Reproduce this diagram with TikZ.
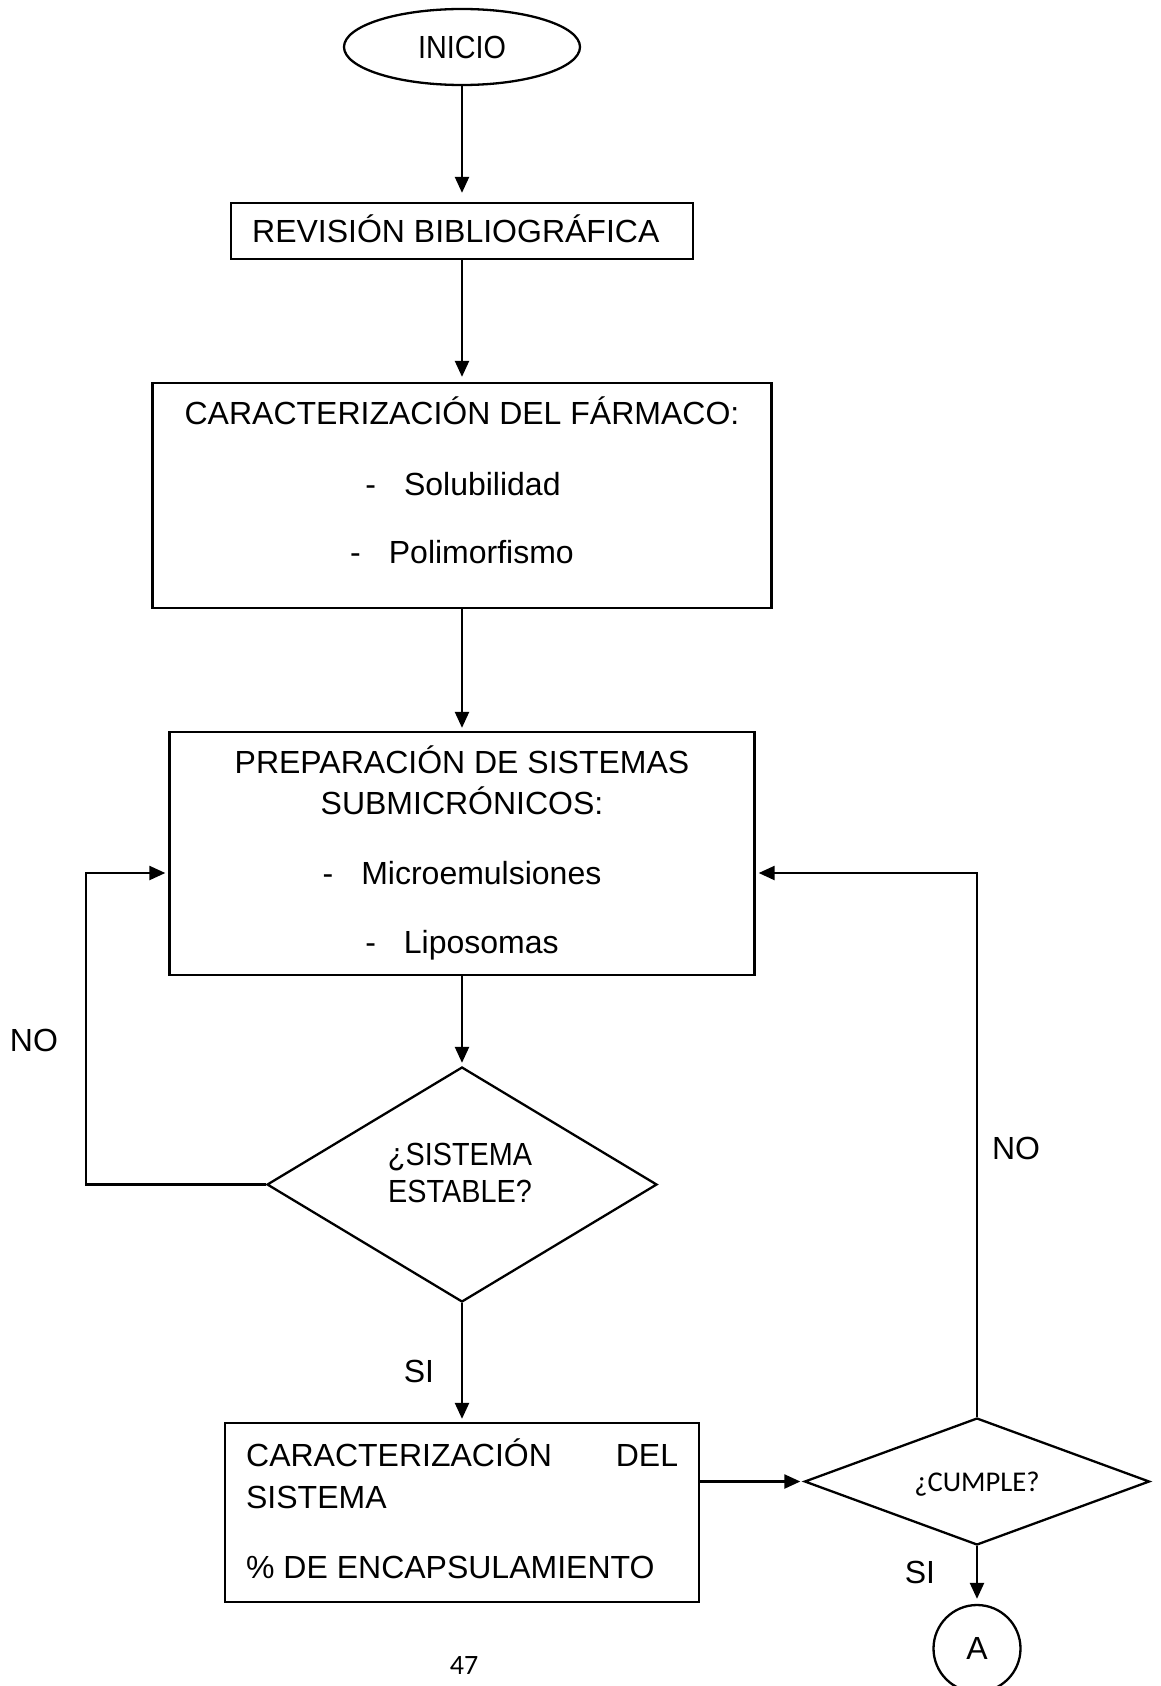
\documentclass[tikz,border=0pt]{standalone}
\usepackage{fontspec}
\setmainfont{Liberation Sans}
\newfontfamily\narrowsans[FakeStretch=0.9]{Liberation Sans}
\newfontfamily\calibri{Carlito}
\usetikzlibrary{shapes.geometric, arrows.meta}
\begin{document}
\begin{tikzpicture}[x=0.5pt, y=-0.5pt,
  line width=1.15pt,
  box/.style={draw, rectangle, inner sep=0pt},
  txt/.style={inner sep=0pt, anchor=base, font=\fontsize{16pt}{19pt}\selectfont},
  ntxt/.style={inner sep=0pt, anchor=base, font=\narrowsans\fontsize{16pt}{19pt}\selectfont},
  ctxt/.style={inner sep=0pt, anchor=base, font=\calibri\fontsize{14.3pt}{17pt}\selectfont},
  flow/.style={-{Triangle[length=8pt,width=7pt]}, shorten >=1.5pt},
]
\useasboundingbox (0,0) rectangle (1161,1686);

% start terminal
\node[draw, ellipse, minimum width=118pt, minimum height=38pt, inner sep=0pt,
      font=\narrowsans\fontsize{16pt}{19pt}\selectfont] (inicio) at (462,47) {INICIO};

% literature review
\node[box, minimum width=231pt, minimum height=28pt] (rev) at (462,231) {};
\node[txt, anchor=base west] (revt) at (251,242.5) {REVISIÓN BIBLIOGRÁFICA};

% drug characterisation
\node[box, minimum width=309.5pt, minimum height=112.5pt] (car) at (462,495.5) {};
\node[txt] (car1) at (462,424.5) {CARACTERIZACIÓN DEL FÁRMACO:};
\node[txt] (car2) at (463,495.5) {-\hspace{14pt}Solubilidad};
\node[txt] (car3) at (462,563.5) {-\hspace{14pt}Polimorfismo};

% preparation of submicron systems
\node[box, minimum width=292.5pt, minimum height=121.5pt] (prep) at (462,853.5) {};
\node[txt] (prep1) at (462,773.5) {PREPARACIÓN DE SISTEMAS};
\node[txt] (prep2) at (462,814.5) {SUBMICRÓNICOS:};
\node[txt] (prep3) at (462,884.5) {-\hspace{14pt}Microemulsiones};
\node[txt] (prep4) at (462,953.5) {-\hspace{14pt}Liposomas};

% stability decision
\node[draw, diamond, minimum width=195pt, minimum height=117.5pt, inner sep=0pt] (d1) at (462,1184.5) {};
\node[ntxt] (d1a) at (460,1165) {¿SISTEMA};
\node[ntxt] (d1b) at (460,1202) {ESTABLE?};

% system characterisation
\node[box, minimum width=237pt, minimum height=89.5pt] (sys) at (462,1512.5) {};
\node[txt, anchor=base west] (sys1) at (245,1466.5) {\makebox[216pt][l]{CARACTERIZACIÓN\hfill DEL}};
\node[txt, anchor=base west] (sys2) at (245,1508.5) {SISTEMA};
\node[txt, anchor=base west] (sys3) at (245,1578.5) {\% DE ENCAPSULAMIENTO};

% compliance decision
\node[draw, diamond, minimum width=172.5pt, minimum height=63.5pt, inner sep=0pt] (d2) at (977,1481.5) {};
\node[ctxt] (d2t) at (977,1491) {¿CUMPLE?};

% off-page connector
\node[draw, circle, minimum size=43.5pt, inner sep=0pt,
      font=\fontsize{16pt}{19pt}\selectfont] (ca) at (977,1648.5) {A};

% branch labels
\node[txt] (no1) at (34,1051.5) {NO};
\node[txt] (no2) at (1016,1159.5) {NO};
\node[txt] (si1) at (419,1382.5) {SI};
\node[txt] (si2) at (920,1583.5) {SI};

% page number
\node[ctxt, font=\calibri\fontsize{14pt}{17pt}\selectfont] (pg) at (464,1674) {47};

% main flow
\draw[flow, shorten >=4.5pt] (inicio) -- (rev);
\draw[flow, shorten >=2.5pt] (rev) -- (car);
\draw[flow] (car) -- (prep);
\draw[flow] (prep) -- (d1);
\draw[flow] (d1) -- (sys);
\draw[flow] (d2.west -| sys.east) -- (d2.west);
\draw[flow, shorten >=2.5pt] (d2) -- (ca);

% feedback loops
\coordinate (loopL) at (86,873);
\draw[flow] (d1.west) -| (loopL) -- (loopL -| prep.west);
\coordinate (loopR) at (977,873);
\draw[flow] (d2.north) -- (loopR) -- (loopR -| prep.east);
\end{tikzpicture}
\end{document}
